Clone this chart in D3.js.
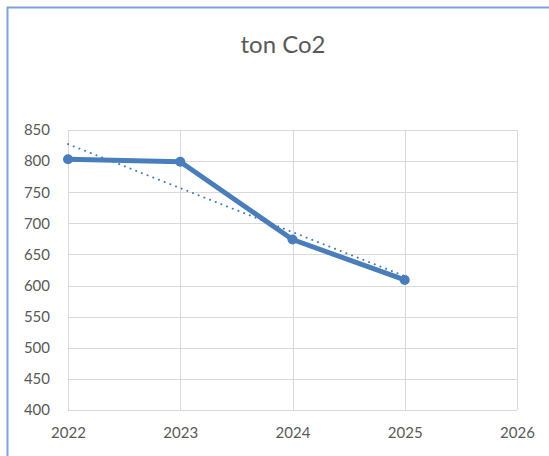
<!DOCTYPE html>
<html>
<head>
<meta charset="utf-8">
<script src="https://cdn.jsdelivr.net/npm/d3@7"></script>
<style>
body { margin: 0; background: #fff; }
text { font-family: Lato, "Open Sans", sans-serif; fill: #595959; }
</style>
</head>
<body>
<div class="chart"></div>
<script>
// values
var years = [2022, 2023, 2024, 2025];
var tons = [803, 799, 674, 609];
var xTicks = [2022, 2023, 2024, 2025, 2026];
var yTicks = [400, 450, 500, 550, 600, 650, 700, 750, 800, 850];

var width = 549, height = 456;
var plot = {left: 68, right: 517, top: 130, bottom: 410};

var svg = d3.select(".chart").append("svg")
	.attr("width", width)
	.attr("height", height);

// chart border (left and top visible)
svg.append("path")
	.attr("d", "M7.5," + height + "V7.5H" + width)
	.attr("fill", "none")
	.attr("stroke", "#7ea3d8")
	.attr("stroke-width", 2);

svg.append("text")
	.attr("x", 283)
	.attr("y", 53)
	.attr("text-anchor", "middle")
	.attr("font-size", 24)
	.text("ton Co2");

var xScale = d3.scaleLinear().domain([2022, 2026]).range([plot.left, plot.right]);
var yScale = d3.scaleLinear().domain([400, 850]).range([plot.bottom, plot.top]);

// gridlines
svg.append("g")
	.selectAll("line.h")
	.data(yTicks)
	.enter().append("line")
	.attr("x1", plot.left).attr("x2", plot.right)
	.attr("y1", function(d){ return Math.round(yScale(d)) + 0.5; })
	.attr("y2", function(d){ return Math.round(yScale(d)) + 0.5; })
	.attr("stroke", "#d9d9d9");

svg.append("g")
	.selectAll("line.v")
	.data(xTicks)
	.enter().append("line")
	.attr("y1", plot.top).attr("y2", plot.bottom)
	.attr("x1", function(d){ return Math.round(xScale(d)) + 0.5; })
	.attr("x2", function(d){ return Math.round(xScale(d)) + 0.5; })
	.attr("stroke", "#d9d9d9");

// axes (labels only)
var yAxis = d3.axisLeft(yScale).tickValues(yTicks).tickSize(0).tickPadding(18);
svg.append("g")
	.attr("transform", "translate(" + plot.left + ",0)")
	.call(yAxis)
	.call(function(g){ g.select(".domain").remove(); })
	.selectAll("text").attr("font-size", 15).style("font-family", "Lato, sans-serif").attr("fill", "#595959");

var xAxis = d3.axisBottom(xScale).tickValues(xTicks).tickFormat(d3.format("d")).tickSize(0).tickPadding(17);
svg.append("g")
	.attr("transform", "translate(0," + plot.bottom + ")")
	.call(xAxis)
	.call(function(g){ g.select(".domain").remove(); })
	.selectAll("text").attr("font-size", 15).style("font-family", "Lato, sans-serif").attr("fill", "#595959");

// linear trendline (least squares over the series)
var mx = d3.mean(years), my = d3.mean(tons);
var slope = d3.sum(years, function(d, i){ return (d - mx) * (tons[i] - my); }) /
	d3.sum(years, function(d){ return (d - mx) * (d - mx); });
var trend = [years[0], years[years.length - 1]].map(function(d){ return [d, my + slope * (d - mx)]; });

svg.append("line")
	.attr("x1", xScale(trend[0][0])).attr("y1", yScale(trend[0][1]))
	.attr("x2", xScale(trend[1][0])).attr("y2", yScale(trend[1][1]))
	.attr("stroke", "#4a7ebb")
	.attr("stroke-width", 2)
	.attr("stroke-linecap", "round")
	.attr("stroke-dasharray", "0.1,6");

// series line
var line = d3.line()
	.x(function(d, i){ return xScale(years[i]); })
	.y(function(d){ return yScale(d); });

svg.append("path")
	.datum(tons)
	.attr("d", line)
	.attr("fill", "none")
	.attr("stroke", "#4a7ebb")
	.attr("stroke-width", 5)
	.attr("stroke-linejoin", "round");

svg.selectAll(".pt")
	.data(tons)
	.enter().append("circle")
	.attr("class", "pt")
	.attr("cx", function(d, i){ return xScale(years[i]); })
	.attr("cy", function(d){ return yScale(d); })
	.attr("r", 5)
	.attr("fill", "#4a7ebb");
</script>
</body>
</html>
